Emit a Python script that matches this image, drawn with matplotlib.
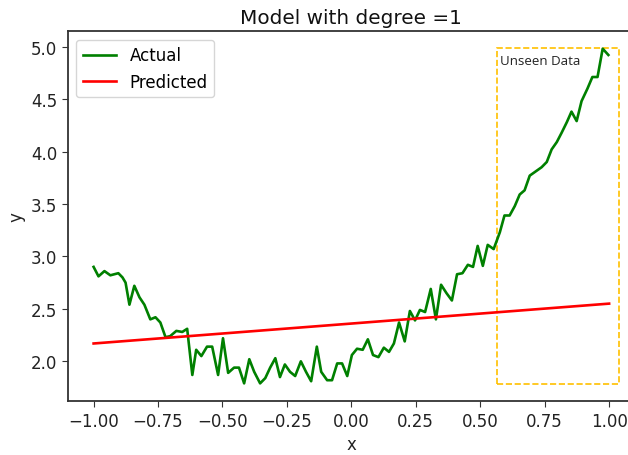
import matplotlib
matplotlib.use("Agg")
import matplotlib.pyplot as plt
from matplotlib.patches import Rectangle

# values
actual_x = [-1.0, -0.981, -0.958, -0.935, -0.904, -0.888, -0.876, -0.861, -0.842, -0.822,
            -0.803, -0.780, -0.760, -0.741, -0.721, -0.703, -0.679, -0.656, -0.637, -0.617,
            -0.602, -0.582, -0.560, -0.540, -0.517, -0.498, -0.478, -0.455, -0.436, -0.416,
            -0.396, -0.377, -0.354, -0.334, -0.315, -0.295, -0.277, -0.258, -0.238, -0.218,
            -0.196, -0.176, -0.156, -0.134, -0.117, -0.094, -0.075, -0.055, -0.036, -0.016,
            0.002, 0.022, 0.044, 0.064, 0.084, 0.105, 0.126, 0.146, 0.165, 0.185,
            0.207, 0.227, 0.247, 0.266, 0.286, 0.308, 0.328, 0.348, 0.369, 0.390,
            0.410, 0.431, 0.452, 0.472, 0.490, 0.510, 0.529, 0.552, 0.576, 0.594,
            0.614, 0.634, 0.653, 0.672, 0.692, 0.715, 0.738, 0.758, 0.777, 0.797,
            0.816, 0.836, 0.854, 0.874, 0.893, 0.916, 0.935, 0.955, 0.975, 0.997]
actual_y = [2.90, 2.81, 2.86, 2.82, 2.84, 2.80, 2.75, 2.54, 2.72, 2.61,
            2.54, 2.40, 2.42, 2.37, 2.23, 2.24, 2.29, 2.28, 2.31, 1.87,
            2.11, 2.05, 2.14, 2.14, 1.87, 2.22, 1.89, 1.94, 1.94, 1.79,
            2.02, 1.90, 1.79, 1.84, 1.94, 2.03, 1.85, 1.97, 1.90, 1.86,
            2.00, 1.90, 1.81, 2.14, 1.90, 1.82, 1.82, 1.98, 1.98, 1.86,
            2.06, 2.12, 2.11, 2.21, 2.06, 2.04, 2.13, 2.09, 2.17, 2.37,
            2.19, 2.48, 2.39, 2.49, 2.47, 2.69, 2.40, 2.73, 2.65, 2.58,
            2.83, 2.84, 2.92, 2.90, 3.10, 2.91, 3.11, 3.07, 3.23, 3.39,
            3.39, 3.48, 3.59, 3.63, 3.77, 3.81, 3.85, 3.90, 4.02, 4.09,
            4.18, 4.28, 4.38, 4.29, 4.48, 4.60, 4.71, 4.71, 4.98, 4.92]
pred_x = [-1.0, 1.0]
pred_y = [2.17, 2.55]
unseen_x = (0.565, 1.04)
unseen_y = (1.78, 4.99)

fig = plt.figure(figsize=(6.28, 4.56), dpi=100)
# axes run past the right edge, like the cropped screenshot
ax = fig.add_axes([0.108, 0.118, 0.903, 0.811])

ax.plot(actual_x, actual_y, color="green", lw=1.9, label="Actual")
ax.plot(pred_x, pred_y, color="red", lw=1.9, label="Predicted")

ax.add_patch(Rectangle((unseen_x[0], unseen_y[0]), unseen_x[1] - unseen_x[0],
                       unseen_y[1] - unseen_y[0], fill=False, edgecolor="#FFC000",
                       linestyle="--", lw=1.2))
ax.text(unseen_x[0] + 0.01, unseen_y[1] - 0.06, "Unseen Data", fontsize=9.5,
        family="Open Sans", va="top", ha="left", color="#222222")

ax.set_xlim(-1.1, 1.1)
ax.set_ylim(1.62, 5.145)
ax.set_xticks([-1.0, -0.75, -0.5, -0.25, 0.0, 0.25, 0.5, 0.75, 1.0])
ax.set_xticklabels(["−1.00", "−0.75", "−0.50", "−0.25", "0.00", "0.25", "0.50", "0.75", "1.00"])
ax.set_yticks([2.0, 2.5, 3.0, 3.5, 4.0, 4.5, 5.0])
ax.tick_params(labelsize=12, length=4, color="#333333", labelcolor="#222222")
ax.set_xlabel("x", fontsize=12, color="#222222")
ax.set_ylabel("y", fontsize=12, color="#222222")
ax.set_title("Model with degree =1", fontsize=14.4, color="#111111")
for s in ax.spines.values():
    s.set_color("#333333")
    s.set_linewidth(1.3)

ax.legend(loc="upper left", fontsize=12)

fig.savefig("out.png", dpi=100)
